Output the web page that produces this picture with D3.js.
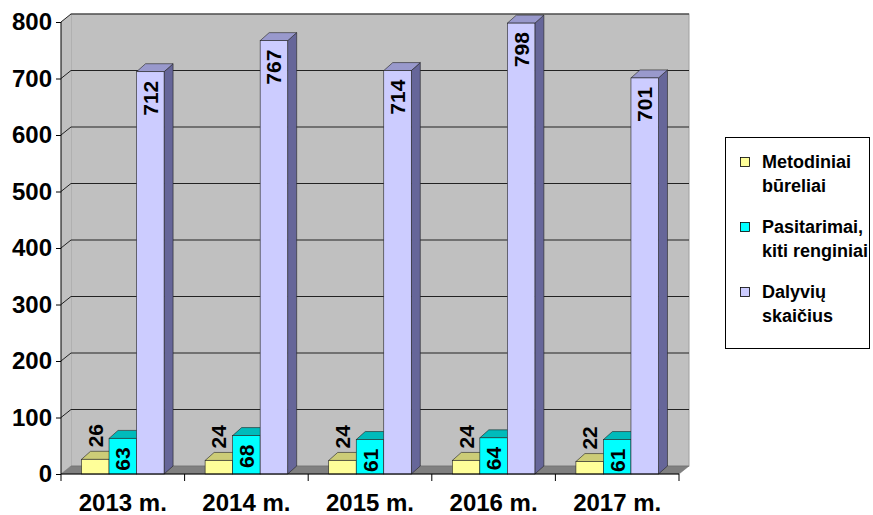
<!DOCTYPE html>
<html><head><meta charset="utf-8">
<script src="https://cdn.jsdelivr.net/npm/d3@7"></script>
<style>body{margin:0;background:#fff}svg{display:block}text{font-family:Arial,"Liberation Sans",sans-serif;font-weight:bold}</style>
</head><body>
<svg id="c" width="873" height="515"></svg>
<script>
const categories = ["2013 m.", "2014 m.", "2015 m.", "2016 m.", "2017 m."];
const seriesNames = [["Metodiniai", "būreliai"], ["Pasitarimai,", "kiti renginiai"], ["Dalyvių", "skaičius"]];
const metodiniai = [26, 24, 24, 24, 22];
const pasitarimai = [63, 68, 61, 64, 61];
const dalyviai = [712, 767, 714, 798, 701];
const yTicks = [0, 100, 200, 300, 400, 500, 600, 700, 800];

const series = [metodiniai, pasitarimai, dalyviai];
const colors = [
  {front:"#FFFF99", top:"#CCCC77", side:"#999966"},
  {front:"#00FFFF", top:"#00BBBB", side:"#008888"},
  {front:"#CCCCFF", top:"#9999CC", side:"#666699"}
];

const svg = d3.select("#c");
const L = 61, R = 679, B = 474, T = 22;
const wdx = 10, wdy = -8;   // wall depth
const bdx = 9, bdy = -8;    // bar depth

const x0 = d3.scaleBand().domain(categories).range([L, R]).paddingInner(0.332).paddingOuter(0.166);
const xEdge = d3.scaleBand().domain(categories).range([L, R]).padding(0);
const x1 = d3.scaleBand().domain([0,1,2]).range([0, x0.bandwidth()]).padding(0);
const y = d3.scaleLinear().domain([0, 800]).range([B, T]);

// back wall
svg.append("rect").attr("x", L+wdx).attr("y", T+wdy).attr("width", R-L).attr("height", B-T)
  .attr("fill", "#C0C0C0").attr("stroke", "#A0A0A0").attr("stroke-width", 1);
// left wall
svg.append("path").attr("d", `M${L},${B}L${L},${T}L${L+wdx},${T+wdy}L${L+wdx},${B+wdy}Z`).attr("fill", "#C0C0C0");
// gridlines
const g = svg.append("g");
yTicks.slice(1).forEach(t => {
  const yy = y(t);
  g.append("path").attr("d", `M${L},${yy}L${L+wdx},${yy+wdy}L${R+wdx},${yy+wdy}`)
    .attr("fill", "none").attr("stroke", "#222").attr("stroke-width", 1);
});
// floor
svg.append("path").attr("d", `M${L},${B}L${L+wdx},${B+wdy}L${R+wdx},${B+wdy}L${R},${B}Z`)
  .attr("fill", "#808080").attr("stroke", "#666").attr("stroke-width", 0.5);

// bars
const bars = svg.append("g");
categories.forEach((c, i) => {
  series.forEach((s, k) => {
    const v = s[i];
    const bx = x0(c) + x1(k), bw = x1.bandwidth();
    const top = y(v);
    const col = colors[k];
    bars.append("path").attr("d", `M${bx+bw},${B}L${bx+bw},${top}L${bx+bw+bdx},${top+bdy}L${bx+bw+bdx},${B+bdy}Z`)
      .attr("fill", col.side).attr("stroke", "#222").attr("stroke-width", 0.6);
    bars.append("path").attr("d", `M${bx},${top}L${bx+bdx},${top+bdy}L${bx+bw+bdx},${top+bdy}L${bx+bw},${top}Z`)
      .attr("fill", col.top).attr("stroke", "#222").attr("stroke-width", 0.6);
    bars.append("rect").attr("x", bx).attr("y", top).attr("width", bw).attr("height", B-top)
      .attr("fill", col.front).attr("stroke", "#222").attr("stroke-width", 0.6);
  });
});
// labels
const labs = svg.append("g");
categories.forEach((c, i) => {
  series.forEach((s, k) => {
    const v = s[i];
    const bx = x0(c) + x1(k), bw = x1.bandwidth();
    const top = y(v);
    const cx = bx + bw/2 + 7.5;
    const inside = (B - top) > 30;
    const ly = inside ? top + 9 : top - 12;
    labs.append("text").attr("transform", `translate(${cx},${ly}) rotate(-90)`)
      .attr("text-anchor", inside ? "end" : "start")
      .attr("font-size", 21).attr("fill", "#000").text(v);
  });
});

// y axis
const ya = svg.append("g").attr("transform", `translate(${L},0)`)
  .call(d3.axisLeft(y).tickValues(yTicks).tickSize(5).tickPadding(4).tickFormat(d3.format("d")));
ya.select(".domain").attr("stroke", "#000").attr("d", `M0,${T}V${B}`);
ya.selectAll(".tick line").attr("stroke", "#000");
ya.selectAll(".tick text").attr("font-size", 24).attr("font-family", "Arial, 'Liberation Sans', sans-serif").attr("font-weight", "bold").attr("fill","#000");

// x axis
svg.append("line").attr("x1", L).attr("x2", R).attr("y1", B).attr("y2", B).attr("stroke", "#000");
categories.concat(["_end"]).forEach((c, i) => {
  const xx = i < categories.length ? xEdge(c) : R;
  svg.append("line").attr("x1", xx).attr("x2", xx).attr("y1", B).attr("y2", B+7).attr("stroke", "#000");
});
svg.append("g").selectAll("text").data(categories).join("text")
  .attr("x", d => xEdge(d) + xEdge.bandwidth()/2).attr("y", 511)
  .attr("text-anchor", "middle").attr("font-size", 24).text(d => d);

// legend
const lg = svg.append("g");
lg.append("rect").attr("x", 725.5).attr("y", 137.5).attr("width", 144).attr("height", 211)
  .attr("fill", "#fff").attr("stroke", "#000");
seriesNames.forEach((nm, k) => {
  const by = 168 + k*65;
  lg.append("rect").attr("x", 740.5).attr("y", by-10.5).attr("width", 9).attr("height", 9)
    .attr("fill", colors[k].front).attr("stroke", "#000").attr("stroke-width", 0.8);
  nm.forEach((line, j) => {
    lg.append("text").attr("x", 762).attr("y", by + j*24).attr("font-size", 18).text(line);
  });
});
</script>
</body></html>
